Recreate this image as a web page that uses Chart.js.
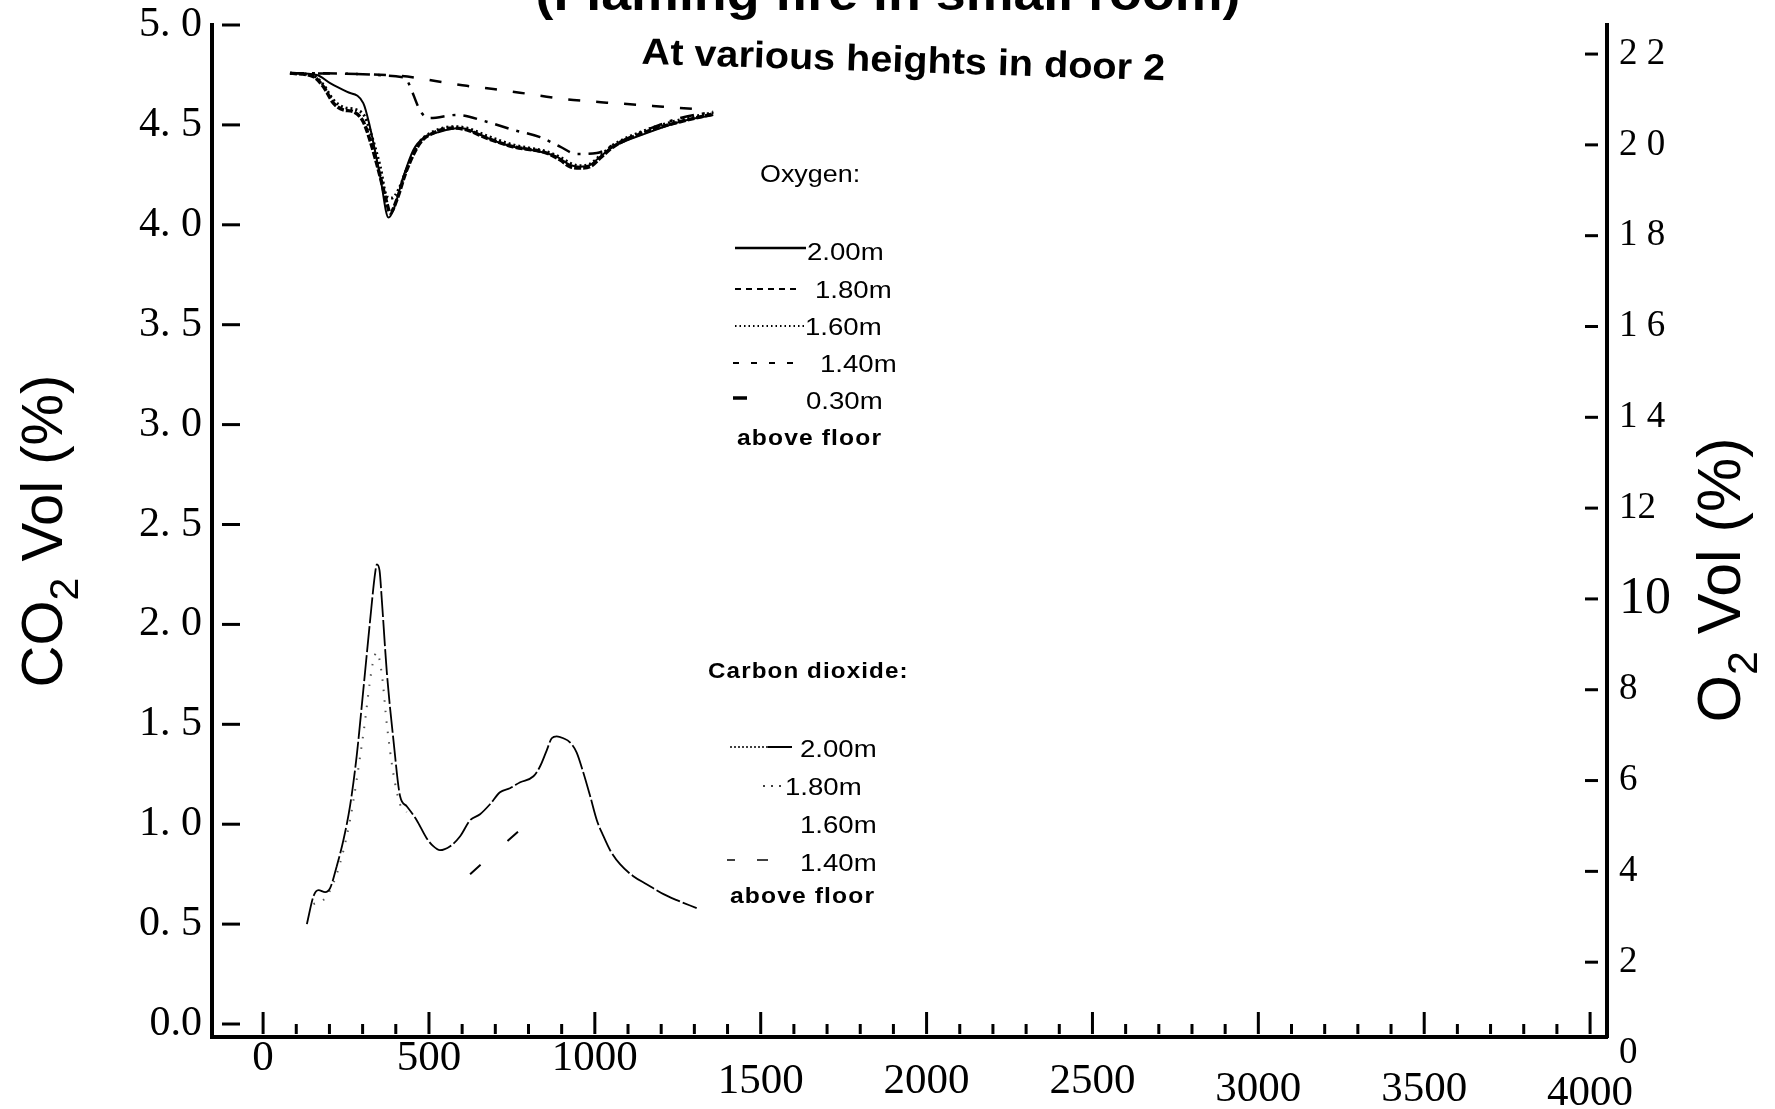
<!DOCTYPE html>
<html>
<head>
<meta charset="utf-8">
<script src="https://cdn.jsdelivr.net/npm/chart.js@4.4.1/dist/chart.umd.min.js"></script>
<style>
  html, body { margin: 0; padding: 0; background: #fff; }
  #wrap { width: 1775px; height: 1109px; position: relative; }
</style>
</head>
<body>
<div id="wrap"><canvas id="gasChart" width="1775" height="1109"></canvas></div>
<script>
// x axis: time (s)
const xTickValues = [0, 500, 1000, 1500, 2000, 2500, 3000, 3500, 4000];
const co2TickValues = [0, 0.5, 1, 1.5, 2, 2.5, 3, 3.5, 4, 4.5, 5];
const o2TickValues = [0, 2, 4, 6, 8, 10, 12, 14, 16, 18, 20, 22];

// Oxygen, various heights in door 2
const tO2_200 = [81, 162, 202, 252, 302, 322, 353, 378, 393, 423, 453, 483, 533, 594, 654, 704, 754, 835, 885, 925, 955, 986, 1016, 1056, 1156, 1257, 1357];
const o2_200 = [21.58, 21.54, 21.36, 21.17, 20.92, 20.40, 19.30, 18.40, 18.57, 19.30, 19.89, 20.15, 20.29, 20.37, 20.22, 20.07, 19.96, 19.85, 19.74, 19.56, 19.52, 19.56, 19.74, 19.96, 20.26, 20.51, 20.66];

const tO2_180 = [81, 152, 182, 212, 242, 272, 302, 322, 353, 373, 383, 403, 433, 473, 513, 574, 614, 674, 754, 855, 895, 925, 955, 986, 1016, 1056, 1156, 1257, 1357];
const o2_180 = [21.58, 21.50, 21.28, 20.92, 20.77, 20.73, 20.51, 20.11, 19.30, 18.72, 18.50, 18.79, 19.45, 20.04, 20.26, 20.37, 20.33, 20.15, 19.96, 19.82, 19.67, 19.52, 19.49, 19.52, 19.71, 19.96, 20.29, 20.51, 20.68];

const tO2_160 = [81, 152, 182, 212, 242, 282, 307, 328, 353, 373, 388, 408, 438, 473, 513, 574, 614, 674, 754, 855, 895, 925, 955, 986, 1016, 1056, 1156, 1257, 1357];
const o2_160 = [21.58, 21.52, 21.32, 20.99, 20.83, 20.77, 20.62, 20.18, 19.52, 18.86, 18.83, 19.01, 19.56, 20.07, 20.29, 20.40, 20.37, 20.20, 20.00, 19.85, 19.73, 19.60, 19.54, 19.58, 19.76, 20.00, 20.33, 20.55, 20.71];

const tO2_140 = [81, 423, 478, 503, 584, 674, 754, 835, 895, 945, 1006, 1056, 1156, 1257, 1357];
const o2_140 = [21.58, 21.49, 20.70, 20.59, 20.66, 20.51, 20.33, 20.17, 19.96, 19.80, 19.82, 20.00, 20.33, 20.59, 20.73];

const tO2_030 = [81, 413, 533, 614, 694, 774, 855, 935, 1036, 1136, 1206, 1337];
const o2_030 = [21.58, 21.52, 21.39, 21.30, 21.23, 21.15, 21.06, 20.99, 20.93, 20.88, 20.84, 20.77];

// Carbon dioxide
const tCO2_200 = [132, 152, 167, 187, 202, 222, 242, 262, 282, 302, 322, 338, 343, 351, 358, 373, 393, 413, 433, 463, 493, 513, 533, 564, 594, 624, 654, 684, 714, 744, 775, 815, 835, 855, 870, 885, 905, 925, 945, 965, 986, 1006, 1026, 1046, 1076, 1116, 1156, 1207, 1247, 1307];
const co2_200 = [0.50, 0.64, 0.67, 0.66, 0.68, 0.79, 0.92, 1.09, 1.34, 1.67, 2.01, 2.26, 2.30, 2.27, 2.12, 1.76, 1.42, 1.14, 1.09, 1.02, 0.93, 0.89, 0.87, 0.89, 0.94, 1.02, 1.05, 1.10, 1.16, 1.18, 1.21, 1.24, 1.29, 1.37, 1.43, 1.44, 1.43, 1.41, 1.36, 1.26, 1.14, 1.02, 0.94, 0.87, 0.80, 0.74, 0.70, 0.65, 0.62, 0.58];

const tCO2_180 = [152, 187, 222, 262, 302, 330, 343, 358, 373, 393, 413, 433];
const co2_180 = [0.60, 0.63, 0.75, 1.02, 1.45, 1.80, 1.86, 1.75, 1.50, 1.25, 1.10, 1.06];

const tCO2_140 = [624, 780];
const co2_140 = [0.75, 0.98];

const SANS = '"Liberation Sans", Arial, sans-serif';
const SERIF = '"Liberation Serif", "Times New Roman", serif';

function pts(xs, ys) {
    return xs.map((x, i) => ({ x: x, y: ys[i] }));
}

function series(label, xs, ys, axis, width, dash, color) {
    return {
        label: label,
        data: pts(xs, ys),
        yAxisID: axis,
        borderColor: color || '#000',
        borderWidth: width,
        borderDash: dash,
        pointRadius: 0,
        fill: false,
        cubicInterpolationMode: 'monotone'
    };
}

// no extra room for half tick labels, the plot box is fixed by the layout padding
function noPad(s) {
    s.paddingTop = 0;
    s.paddingBottom = 0;
    s.paddingLeft = 0;
    s.paddingRight = 0;
}

// labels, sample lines and axis titles written on the plot
const overlay = {
    id: 'overlay',
    afterDraw(chart) {
        const { ctx, chartArea: a, scales } = chart;
        const line = (x1, y1, x2, y2) => {
            ctx.beginPath(); ctx.moveTo(x1, y1); ctx.lineTo(x2, y2); ctx.stroke();
        };
        const text = (str, x, y, font, sx, align) => {
            ctx.save();
            ctx.translate(x, y);
            ctx.scale(sx || 1, 1);
            ctx.font = font;
            ctx.textAlign = align || 'left';
            ctx.textBaseline = 'alphabetic';
            ctx.fillText(str, 0, 0);
            ctx.restore();
        };
        const sample = (x1, x2, y, dash, w) => {
            ctx.save();
            ctx.lineWidth = w || 2;
            ctx.setLineDash(dash);
            line(x1, y, x2, y);
            ctx.restore();
        };
        const vTitle = (x, y, main, sub, rest, size) => {
            ctx.save();
            ctx.translate(x, y);
            ctx.rotate(-Math.PI / 2);
            ctx.textBaseline = 'alphabetic';
            ctx.font = size + 'px ' + SANS;
            const w1 = ctx.measureText(main).width;
            const w3 = ctx.measureText(rest).width;
            ctx.font = Math.round(size * 0.7) + 'px ' + SANS;
            const w2 = ctx.measureText(sub).width;
            let p = -(w1 + w2 + w3) / 2;
            ctx.font = size + 'px ' + SANS;
            ctx.fillText(main, p, 0);
            ctx.font = Math.round(size * 0.7) + 'px ' + SANS;
            ctx.fillText(sub, p + w1, size * 0.28);
            ctx.font = size + 'px ' + SANS;
            ctx.fillText(rest, p + w1 + w2, 0);
            ctx.restore();
        };

        ctx.save();
        ctx.fillStyle = '#000';
        ctx.strokeStyle = '#000';
        ctx.lineCap = 'butt';

        // inward tick marks
        ctx.lineWidth = 3;
        const xs = scales.x;
        for (let v = 0; v <= 4000; v += 100) {
            const px = xs.getPixelForValue(v);
            line(px, a.bottom - 3, px, a.bottom - 3 - (v % 500 === 0 ? 22 : 10));
        }
        scales.yCO2.ticks.forEach(t => {
            const py = scales.yCO2.getPixelForValue(t.value);
            line(a.left + 10, py, a.left + 28, py);
        });
        scales.yO2.ticks.forEach(t => {
            if (t.value === 0) return;
            const py = scales.yO2.getPixelForValue(t.value);
            line(a.right - 22, py, a.right - 9, py);
        });

        // titles
        text('(Flaming fire in small room)', 888, 10, 'bold 48px ' + SANS, 1.12, 'center');
        ctx.save();
        ctx.translate(903, 72);
        ctx.rotate(1.8 * Math.PI / 180);
        text('At various heights in door 2', 0, 0, 'bold 37px ' + SANS, 1.07, 'center');
        ctx.restore();

        vTitle(62, 531, 'CO', '2', ' Vol (%)', 58);
        vTitle(1740, 580, 'O', '2', ' Vol (%)', 61);

        // oxygen key
        const lf = '24px ' + SANS;
        text('Oxygen:', 760, 182, lf, 1.12);
        sample(735, 806, 248, [], 2.5);
        text('2.00m', 807, 260, lf, 1.15);
        sample(735, 798, 289, [6, 5], 2);
        text('1.80m', 815, 298, lf, 1.15);
        sample(735, 805, 326, [1.5, 3], 2);
        text('1.60m', 805, 335, lf, 1.15);
        sample(733, 797, 363, [6, 12], 2);
        text('1.40m', 820, 372, lf, 1.15);
        sample(733, 747, 398, [], 3.5);
        text('0.30m', 806, 409, lf, 1.15);
        ctx.save();
        ctx.letterSpacing = '1px';
        text('above floor', 737, 445, 'bold 22px ' + SANS, 1.12);
        ctx.restore();

        // carbon dioxide key
        ctx.save();
        ctx.letterSpacing = '1px';
        text('Carbon dioxide:', 708, 678, 'bold 22px ' + SANS, 1.1);
        ctx.restore();
        sample(730, 768, 747, [2, 2], 1.5);
        sample(768, 792, 747, [], 2);
        text('2.00m', 800, 757, lf, 1.15);
        sample(763, 782, 786, [2, 6], 1.5);
        text('1.80m', 785, 795, lf, 1.15);
        text('1.60m', 800, 833, lf, 1.15);
        sample(727, 735, 860, [], 1.5);
        sample(757, 768, 860, [], 1.5);
        text('1.40m', 800, 871, lf, 1.15);
        ctx.save();
        ctx.letterSpacing = '1px';
        text('above floor', 730, 903, 'bold 22px ' + SANS, 1.12);
        ctx.restore();

        ctx.restore();
    }
};

function xOffset(v) {
    if (v >= 4000) return 35;
    if (v >= 3000) return 31;
    if (v >= 1500) return 23;
    return 0;
}

new Chart(document.getElementById('gasChart').getContext('2d'), {
    type: 'line',
    data: {
        datasets: [
            series('O2 2.00m', tO2_200, o2_200, 'yO2', 2, []),
            series('O2 1.80m', tO2_180, o2_180, 'yO2', 3.5, [7, 2]),
            series('O2 1.60m', tO2_160, o2_160, 'yO2', 3, [2, 3]),
            series('O2 1.40m', tO2_140, o2_140, 'yO2', 2.5, [14, 8, 3, 8]),
            series('O2 0.30m', tO2_030, o2_030, 'yO2', 2.5, [12, 16]),
            series('CO2 2.00m', tCO2_200, co2_200, 'yCO2', 1.8, [26, 3]),
            series('CO2 1.80m', tCO2_180, co2_180, 'yCO2', 2, [1.5, 9], '#555'),
            series('CO2 1.40m', tCO2_140, co2_140, 'yCO2', 2, [14, 36])
        ]
    },
    options: {
        responsive: false,
        animation: false,
        layout: { padding: { top: 25, left: 0, right: 0, bottom: 0 } },
        plugins: {
            legend: { display: false },
            title: { display: false },
            tooltip: { enabled: false }
        },
        scales: {
            x: {
                type: 'linear',
                min: -154,
                max: 4051,
                afterBuildTicks: s => { s.ticks = xTickValues.map(v => ({ value: v })); },
                afterFit: s => { s.height = 72; noPad(s); },
                grid: { display: false, drawTicks: false },
                border: { display: true, color: '#000', width: 4 },
                ticks: {
                    autoSkip: false,
                    maxRotation: 0,
                    padding: 0,
                    color: '#000',
                    font: c => {
                        const off = c.tick ? xOffset(c.tick.value) : 0;
                        return { family: SERIF, size: 43, lineHeight: (43 + 2 * off) / 43 };
                    },
                    callback: v => String(v)
                }
            },
            yCO2: {
                type: 'linear',
                position: 'left',
                min: -0.065,
                max: 5.0,
                afterBuildTicks: s => { s.ticks = co2TickValues.map(v => ({ value: v })); },
                afterFit: s => { s.width = 212; noPad(s); },
                grid: { display: false, drawTicks: false },
                border: { display: true, color: '#000', width: 4 },
                ticks: {
                    padding: 10,
                    color: '#000',
                    font: { family: SERIF, size: 42 },
                    callback: v => v === 0 ? '0.0' : v.toFixed(1).replace('.', '. ')
                }
            },
            yO2: {
                type: 'linear',
                position: 'right',
                min: 0.352,
                max: 22.64,
                afterBuildTicks: s => { s.ticks = o2TickValues.map(v => ({ value: v })); },
                afterFit: s => { s.width = 168; noPad(s); },
                grid: { display: false, drawTicks: false },
                border: { display: true, color: '#000', width: 4 },
                ticks: {
                    padding: 12,
                    color: '#000',
                    font: c => ({ family: SERIF, size: c.tick && c.tick.value === 10 ? 52 : 37 }),
                    callback: v => v >= 14 ? String(v).split('').join(' ') : String(v)
                }
            }
        }
    },
    plugins: [overlay]
});
</script>
</body>
</html>
